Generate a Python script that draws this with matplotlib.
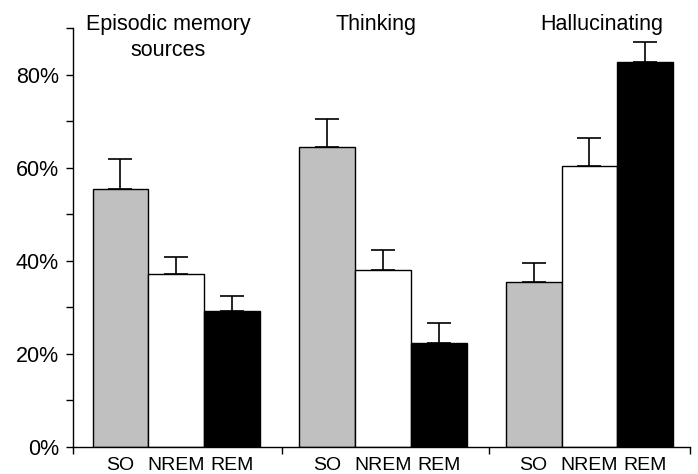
import numpy as np
import matplotlib.pyplot as plt

plt.rcParams['font.family'] = ['Liberation Sans', 'DejaVu Sans']

groups = ['Episodic memory\nsources', 'Thinking', 'Hallucinating']
states = ['SO', 'NREM', 'REM']
colors = ['#c0c0c0', 'white', 'black']

# percent values per state (rows) for each group (columns)
so = [55.5, 64.5, 35.4]
nrem = [37.2, 38.1, 60.3]
rem = [29.2, 22.3, 82.6]
so_err = [6.3, 6.0, 4.1]
nrem_err = [3.7, 4.2, 6.1]
rem_err = [3.3, 4.3, 4.3]

vals = [so, nrem, rem]
errs = [so_err, nrem_err, rem_err]

gap = 3.7
fig = plt.figure(figsize=(6.98, 4.74), dpi=100)
ax = fig.add_axes([73/698, 27/474, 617/698, 419/474])

xpos = []
for j in range(3):
    x = np.arange(3) * gap + j
    xpos.append(x)
    ax.bar(x, vals[j], width=1.0, color=colors[j], edgecolor='black', linewidth=1.0, zorder=2)
    ax.errorbar(x, vals[j], yerr=[np.zeros(3), errs[j]], fmt='none', ecolor='black',
                elinewidth=1.2, capsize=8.5, capthick=1.2, zorder=1)

ax.set_xlim(-0.85, 10.2)
ax.set_ylim(0, 90)

ax.spines['top'].set_visible(False)
ax.spines['right'].set_visible(False)
ax.spines['left'].set_linewidth(1.0)
ax.spines['bottom'].set_linewidth(1.0)

ax.set_yticks(np.arange(0, 91, 10))
ax.set_yticklabels([f'{v}%' if v % 20 == 0 else '' for v in range(0, 91, 10)])
ax.tick_params(axis='y', length=5, width=1.0, labelsize=15.5, pad=5)

allx = np.concatenate([[xpos[j][i] for j in range(3)] for i in range(3)])
ax.set_xticks(allx)
ax.set_xticklabels(states * 3)
ax.tick_params(axis='x', which='major', length=0, labelsize=14, pad=7)
ax.set_xticks([-0.85, 2.9, 6.6, 10.2], minor=True)
ax.tick_params(axis='x', which='minor', length=5, width=1.0)

title_x = [0.85, 4.58, 8.62]
for tx, g in zip(title_x, groups):
    ax.text(tx, 92.9, g, ha='center', va='top', fontsize=15.5, clip_on=False,
            linespacing=1.3)

fig.savefig('out.png', dpi=100)
